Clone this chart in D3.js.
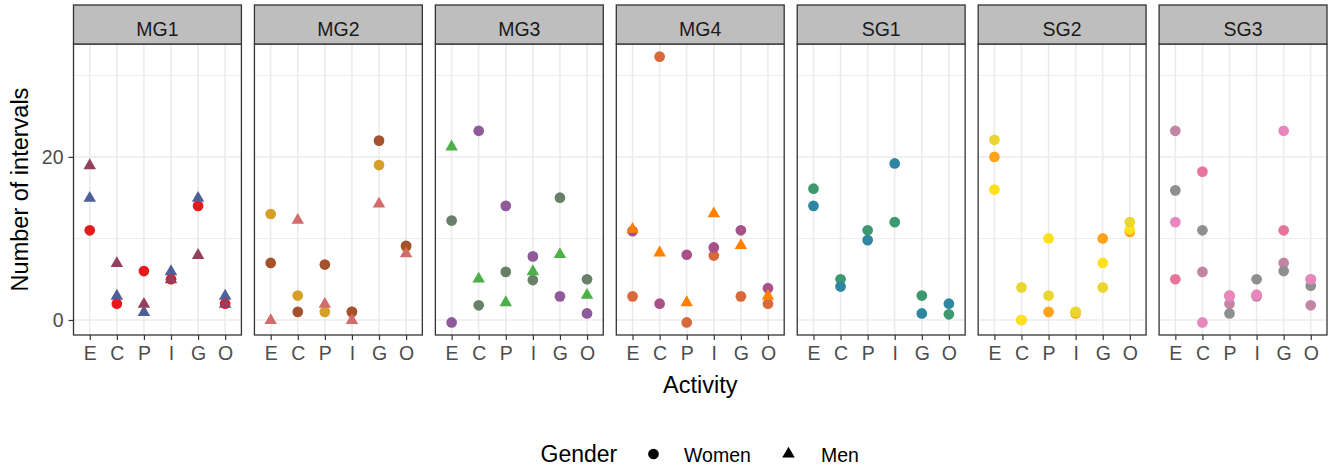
<!DOCTYPE html>
<html>
<head>
<meta charset="utf-8">
<script src="https://cdn.jsdelivr.net/npm/d3@7"></script>
<style>
  html, body { margin: 0; padding: 0; background: #ffffff; }
  svg { display: block; font-family: "Liberation Sans", Arial, sans-serif; }
</style>
</head>
<body>
<svg id="chart" width="1333" height="467"></svg>
<script>
// ---- data ----
const activities = ["E", "C", "P", "I", "G", "O"];
const groups = ["MG1", "MG2", "MG3", "MG4", "SG1", "SG2", "SG3"];
const yTicks = [0, 20];
const yMinorTicks = [10, 30];
const genders = ["Women", "Men"];

// values per activity (E, C, P, I, G, O)
const MG1_W1 = [11, 2, 6, 5, 14, 2];
const MG1_M1 = [15, 3, 1, 6, 15, 3];
const MG1_M2 = [19, 7, 2, 5, 8, 2];

const MG2_W1 = [13, 3, 1, 1, 19, 9];
const MG2_W2 = [7, 1, 6.8, 1, 22, 9.1];
const MG2_M1 = [0, 12.3, 2, 0, 14.3, 8.2];

const MG3_W1 = [12.2, 1.8, 5.9, 4.9, 15, 5];
const MG3_W2 = [-0.3, 23.2, 14, 7.8, 2.9, 0.8];
const MG3_M1 = [21.3, 5.1, 2.2, 6, 8.1, 3.1];

const MG4_W1 = [2.9, 32.3, -0.3, 7.9, 2.9, 2];
const MG4_W2 = [10.9, 2, 8, 8.9, 11, 3.9];
const MG4_M1 = [11.2, 8.3, 2.2, 13.1, 9.2, 3];

const SG1_W1 = [16.1, 5, 11, 12, 3, 0.7];
const SG1_W2 = [14, 4.1, 9.8, 19.2, 0.8, 2];

const SG2_W1 = [20, 0, 1, 0.8, 10, 10.8];
const SG2_W2 = [16, 0, 10, 1, 7, 11.1];
const SG2_W3 = [22.1, 4, 3, 1, 4, 12];

const SG3_W1 = [5, 18.2, 3, 3, 11, 5];
const SG3_W2 = [23.2, 5.9, 2, 2.9, 7, 1.8];
const SG3_W3 = [15.9, 11, 0.8, 5, 6, 4.2];
const SG3_W4 = [12, -0.3, 2.9, 3.1, 23.2, 5];

// [panel, gender, values, key] in drawing order
const seriesList = [
  ["MG1", "Women", MG1_W1, "MG1_W1"],
  ["MG1", "Men", MG1_M1, "MG1_M1"],
  ["MG1", "Men", MG1_M2, "MG1_M2"],
  ["MG2", "Women", MG2_W1, "MG2_W1"],
  ["MG2", "Women", MG2_W2, "MG2_W2"],
  ["MG2", "Men", MG2_M1, "MG2_M1"],
  ["MG3", "Women", MG3_W1, "MG3_W1"],
  ["MG3", "Women", MG3_W2, "MG3_W2"],
  ["MG3", "Men", MG3_M1, "MG3_M1"],
  ["MG4", "Women", MG4_W1, "MG4_W1"],
  ["MG4", "Women", MG4_W2, "MG4_W2"],
  ["MG4", "Men", MG4_M1, "MG4_M1"],
  ["SG1", "Women", SG1_W1, "SG1_W1"],
  ["SG1", "Women", SG1_W2, "SG1_W2"],
  ["SG2", "Women", SG2_W1, "SG2_W1"],
  ["SG2", "Women", SG2_W2, "SG2_W2"],
  ["SG2", "Women", SG2_W3, "SG2_W3"],
  ["SG3", "Women", SG3_W1, "SG3_W1"],
  ["SG3", "Women", SG3_W2, "SG3_W2"],
  ["SG3", "Women", SG3_W3, "SG3_W3"],
  ["SG3", "Women", SG3_W4, "SG3_W4"]
];

// ---- styles ----
const seriesColors = {
  MG1_W1: "#E41A1C", MG1_M1: "#4E5F96", MG1_M2: "#953F5E",
  MG2_W1: "#D69F27", MG2_W2: "#A3522B", MG2_M1: "#D26B6B",
  MG3_W1: "#687F68", MG3_W2: "#8E5A9A", MG3_M1: "#4CAF49",
  MG4_W1: "#D9693B", MG4_W2: "#A8508A", MG4_M1: "#FF8000",
  SG1_W1: "#3D9970", SG1_W2: "#2E86A0",
  SG2_W1: "#FFA31A", SG2_W2: "#FFE01E", SG2_W3: "#E9D62F",
  SG3_W1: "#E8739D", SG3_W2: "#C285A6", SG3_W3: "#8F8F8F", SG3_W4: "#E887BE"
};

const svg = d3.select("#chart");
const plotLeft = 73.5, plotRight = 1327, plotTop = 44, plotBottom = 335;
const stripTop = 5;

const panelScale = d3.scaleBand().domain(groups).range([plotLeft, plotRight]).paddingInner(0.072).paddingOuter(0);
const w = panelScale.bandwidth();
const x = d3.scalePoint().domain(activities).range([0, w]).padding(0.6);
const y = d3.scaleLinear().domain([-1.84, 33.85]).range([plotBottom, plotTop]);

const circleSym = d3.symbol().type(d3.symbolCircle).size(90);
const triSym = d3.symbol().type(d3.symbolTriangle).size(68);

groups.forEach(g => {
  const px = panelScale(g);
  const p = svg.append("g").attr("transform", `translate(${px},0)`);

  // background
  p.append("rect").attr("x", 0).attr("y", plotTop).attr("width", w).attr("height", plotBottom - plotTop).attr("fill", "#ffffff");

  // minor grid
  p.selectAll(".ymin").data(yMinorTicks).enter().append("line")
    .attr("x1", 0).attr("x2", w).attr("y1", d => y(d)).attr("y2", d => y(d))
    .attr("stroke", "#EBEBEB").attr("stroke-width", 0.9);
  // major grid
  p.selectAll(".ymaj").data(yTicks).enter().append("line")
    .attr("x1", 0).attr("x2", w).attr("y1", d => y(d)).attr("y2", d => y(d))
    .attr("stroke", "#EBEBEB").attr("stroke-width", 1.6);
  p.selectAll(".xmaj").data(activities).enter().append("line")
    .attr("x1", d => x(d)).attr("x2", d => x(d)).attr("y1", plotTop).attr("y2", plotBottom)
    .attr("stroke", "#EBEBEB").attr("stroke-width", 1.6);

  // points
  seriesList.filter(s => s[0] === g).forEach(s => {
    const [, gender, vals, key] = s;
    p.selectAll(null).data(activities.map((a, i) => ({a, v: vals[i]}))).enter().append("path")
      .attr("d", gender === "Women" ? circleSym() : triSym())
      .attr("transform", d => `translate(${x(d.a)},${y(d.v) + (gender === "Men" ? 0.5 : 0)})`)
      .attr("fill", seriesColors[key]);
  });

  // border
  p.append("rect").attr("x", 0).attr("y", plotTop).attr("width", w).attr("height", plotBottom - plotTop)
    .attr("fill", "none").attr("stroke", "#333333").attr("stroke-width", 1.3);

  // strip
  p.append("rect").attr("x", 0).attr("y", stripTop).attr("width", w).attr("height", plotTop - stripTop)
    .attr("fill", "#BEBEBE").attr("stroke", "#333333").attr("stroke-width", 1.3);
  p.append("text").attr("x", w / 2).attr("y", 31).attr("text-anchor", "middle")
    .attr("dominant-baseline", "middle").attr("font-size", 19.5).attr("fill", "#1A1A1A").text(g);

  // x axis
  const xa = p.append("g").attr("transform", `translate(0,${plotBottom})`)
    .call(d3.axisBottom(x).tickSize(5).tickPadding(6));
  xa.select(".domain").remove();
  xa.selectAll(".tick line").attr("stroke", "#333333").attr("stroke-width", 1.2);
  xa.selectAll(".tick text").attr("font-size", 19.5).attr("fill", "#4D4D4D").attr("font-family", "Liberation Sans, Arial, sans-serif");
});

// y axis on first panel
const ya = svg.append("g").attr("transform", `translate(${plotLeft},0)`)
  .call(d3.axisLeft(y).tickValues(yTicks).tickSize(5).tickPadding(5));
ya.select(".domain").remove();
ya.selectAll(".tick line").attr("stroke", "#333333").attr("stroke-width", 1.2);
ya.selectAll(".tick text").attr("font-size", 19.5).attr("fill", "#4D4D4D").attr("font-family", "Liberation Sans, Arial, sans-serif");

// axis titles
svg.append("text").attr("x", (plotLeft + plotRight) / 2).attr("y", 393).attr("text-anchor", "middle")
  .attr("font-size", 23.5).attr("fill", "#000").text("Activity");
svg.append("text").attr("transform", `translate(28,${(plotTop + plotBottom) / 2}) rotate(-90)`)
  .attr("text-anchor", "middle").attr("font-size", 23.5).attr("fill", "#000").text("Number of intervals");

// legend
const lg = svg.append("g");
lg.append("text").attr("x", 540.5).attr("y", 462).attr("font-size", 23).attr("fill", "#000").text("Gender");
const legendItems = [
  {g: genders[0], sx: 653.5, tx: 684},
  {g: genders[1], sx: 788.5, tx: 821}
];
legendItems.forEach(it => {
  lg.append("path").attr("d", it.g === "Women" ? circleSym() : triSym())
    .attr("transform", `translate(${it.sx},454)`).attr("fill", "#000");
  lg.append("text").attr("x", it.tx).attr("y", 462).attr("font-size", 19.5).attr("fill", "#000").text(it.g);
});
</script>
</body>
</html>
